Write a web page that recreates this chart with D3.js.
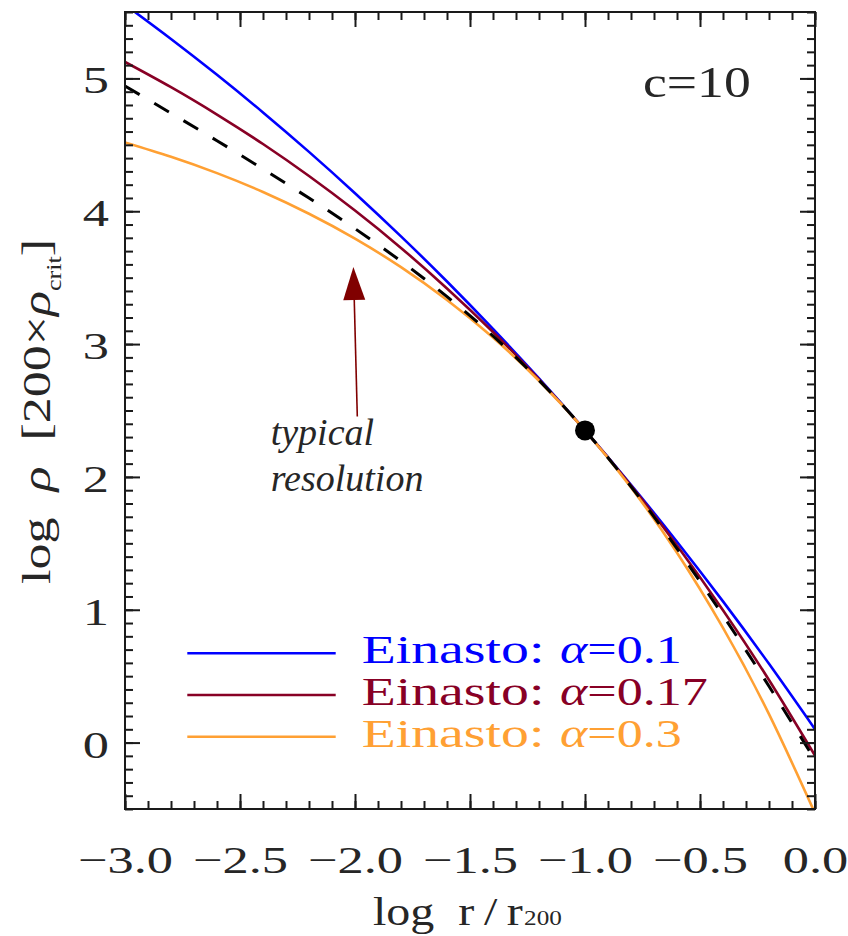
<!DOCTYPE html>
<html>
<head>
<meta charset="utf-8">
<script src="https://cdn.jsdelivr.net/npm/d3@7"></script>
<style>
  html, body { margin: 0; padding: 0; background: #fff; }
  svg { display: block; }
  text { font-family: "Liberation Serif", "Times New Roman", serif; fill: #262626; }
</style>
</head>
<body>
<svg id="chart" width="848" height="936"></svg>
<script>
// log10(r / r200) sample positions
const logR = [-3.0, -2.8, -2.6, -2.4, -2.2, -2.0, -1.8, -1.6, -1.4, -1.2, -1.0, -0.8, -0.6, -0.4, -0.2, 0.0];
// log density [200 x rho_crit] for each profile
const einasto010 = [5.555, 5.297, 5.027, 4.744, 4.447, 4.136, 3.811, 3.471, 3.114, 2.741, 2.350, 1.941, 1.512, 1.063, 0.593, 0.101];
const einasto017 = [5.124, 4.934, 4.728, 4.506, 4.265, 4.005, 3.724, 3.419, 3.091, 2.735, 2.350, 1.934, 1.484, 0.997, 0.471, -0.098];
const einasto030 = [4.518, 4.410, 4.287, 4.145, 3.981, 3.794, 3.579, 3.332, 3.049, 2.724, 2.350, 1.921, 1.429, 0.863, 0.214, -0.532];
const nfw        = [4.943, 4.738, 4.531, 4.318, 4.099, 3.869, 3.624, 3.357, 3.061, 2.727, 2.350, 1.927, 1.461, 0.957, 0.424, -0.131];

const alphaLabels = ["0.1", "0.17", "0.3"];
const seriesColors = ["#0000ff", "#880025", "#ffa033"];
const xTicks = [-3.0, -2.5, -2.0, -1.5, -1.0, -0.5, 0.0];
const yTicks = [0, 1, 2, 3, 4, 5];
const pivotPoint = { x: -1.0, y: 2.35 };        // r = r_-2 for c = 10
const resolutionArrow = { x0: -1.99, y0: 2.455, x1: -2.007, y1: 3.58 };

const svg = d3.select("#chart");
const pLeft = 125, pRight = 815, pTop = 12, pBottom = 809;

const x = d3.scaleLinear().domain([-3, 0]).range([pLeft, pRight]);
const y = d3.scaleLinear().domain([-0.5, 5.5]).range([pBottom, pTop]);

// clip for the curves
svg.append("defs").append("clipPath").attr("id", "plotClip")
  .append("rect").attr("x", pLeft).attr("y", pTop)
  .attr("width", pRight - pLeft).attr("height", pBottom - pTop);

const plot = svg.append("g").attr("clip-path", "url(#plotClip)");

const line = d3.line()
  .x((d, i) => x(logR[i]))
  .y(d => y(d))
  .curve(d3.curveNatural);

[einasto010, einasto017, einasto030].forEach((vals, k) => {
  plot.append("path")
    .attr("d", line(vals))
    .attr("fill", "none")
    .attr("stroke", seriesColors[k])
    .attr("stroke-width", 2.6);
});

plot.append("path")
  .attr("d", line(nfw))
  .attr("fill", "none")
  .attr("stroke", "#000")
  .attr("stroke-width", 3)
  .attr("stroke-dasharray", "17,17");

plot.append("circle")
  .attr("cx", x(pivotPoint.x)).attr("cy", y(pivotPoint.y))
  .attr("r", 10).attr("fill", "#000");

// axes: ticks point inward on all four sides
const axisColor = "#1a1a1a";
function styleAxis(g) {
  g.attr("font-size", null).attr("font-family", null);
  g.select(".domain").remove();
  g.selectAll("line").attr("stroke", axisColor).attr("stroke-width", 2);
}
const xMinor = d3.range(-30, 1).map(i => i / 10);
const yMinor = d3.range(-5, 56).map(i => i / 10);

svg.append("g").attr("transform", `translate(0,${pBottom})`)
  .call(d3.axisBottom(x).tickValues(xMinor).tickSize(-8).tickFormat("")).call(styleAxis);
svg.append("g").attr("transform", `translate(0,${pTop})`)
  .call(d3.axisTop(x).tickValues(xMinor).tickSize(-8).tickFormat("")).call(styleAxis);
svg.append("g").attr("transform", `translate(${pLeft},0)`)
  .call(d3.axisLeft(y).tickValues(yMinor).tickSize(-8).tickFormat("")).call(styleAxis);
svg.append("g").attr("transform", `translate(${pRight},0)`)
  .call(d3.axisRight(y).tickValues(yMinor).tickSize(-8).tickFormat("")).call(styleAxis);

const numStretch = 1.38;
const xAxis = svg.append("g").attr("transform", `translate(0,${pBottom})`)
  .call(d3.axisBottom(x).tickValues(xTicks).tickSize(-15).tickFormat(d3.format(".1f")))
  .call(styleAxis);
xAxis.selectAll("text")
  .attr("y", 63.7).attr("dy", null)
  .attr("transform", `scale(${numStretch},1)`)
  .style("font-size", "38px");

svg.append("g").attr("transform", `translate(0,${pTop})`)
  .call(d3.axisTop(x).tickValues(xTicks).tickSize(-15).tickFormat("")).call(styleAxis);

const yAxis = svg.append("g").attr("transform", `translate(${pLeft},0)`)
  .call(d3.axisLeft(y).tickValues(yTicks).tickSize(-15).tickFormat(d3.format("d")))
  .call(styleAxis);
yAxis.selectAll("text")
  .attr("x", -16 / numStretch).attr("y", 14.5).attr("dy", null)
  .attr("transform", `scale(${numStretch},1)`)
  .style("font-size", "38px");

svg.append("g").attr("transform", `translate(${pRight},0)`)
  .call(d3.axisRight(y).tickValues(yTicks).tickSize(-15).tickFormat("")).call(styleAxis);

// frame
svg.append("rect")
  .attr("x", pLeft).attr("y", pTop)
  .attr("width", pRight - pLeft).attr("height", pBottom - pTop)
  .attr("fill", "none").attr("stroke", axisColor).attr("stroke-width", 2);

// x axis title
const xt = svg.append("text")
  .attr("transform", "translate(373,925) scale(1.2,1)")
  .style("font-size", "40px");
xt.append("tspan").text("log\u2002r\u2009/\u2009r");
xt.append("tspan").attr("dx", 1).style("font-size", "21px").text("200");

// y axis title
const yt = svg.append("text")
  .attr("transform", "translate(50,411.5) rotate(-90) scale(1.3,1)")
  .attr("text-anchor", "middle")
  .style("font-size", "40px");
yt.append("tspan").text("log\u2002");
yt.append("tspan").style("font-style", "italic").text("\u03c1");
yt.append("tspan").text("\u2002[200\u00d7");
yt.append("tspan").style("font-style", "italic").text("\u03c1");
yt.append("tspan").style("font-size", "20px").attr("dy", 11).text("crit");
yt.append("tspan").attr("dy", -11).text("]");

// concentration label
svg.append("text")
  .attr("transform", "translate(643,96.7) scale(1.22,1)")
  .style("font-size", "44px")
  .text("c=10");

// resolution arrow
const ax0 = x(resolutionArrow.x0), ay0 = y(resolutionArrow.y0);
const ax1 = x(resolutionArrow.x1), ay1 = y(resolutionArrow.y1);
const len = Math.hypot(ax1 - ax0, ay1 - ay0);
const ux = (ax1 - ax0) / len, uy = (ay1 - ay0) / len;
const headLen = 33, headHalf = 11;
const bx = ax1 - ux * headLen, by = ay1 - uy * headLen;
svg.append("line")
  .attr("x1", ax0).attr("y1", ay0).attr("x2", bx).attr("y2", by)
  .attr("stroke", "#800000").attr("stroke-width", 1.6);
svg.append("polygon")
  .attr("points", [
    [ax1, ay1],
    [bx - uy * headHalf, by + ux * headHalf],
    [bx + uy * headHalf, by - ux * headHalf]
  ].map(p => p.join(",")).join(" "))
  .attr("fill", "#800000");

const note = svg.append("text")
  .style("font-size", "38px").style("font-style", "italic");
note.append("tspan").attr("x", ax0 - 86.6).attr("y", ay0 + 29).text("typical");
note.append("tspan").attr("x", ax0 - 86.6).attr("y", ay0 + 75).text("resolution");

// legend
const legendY = [653.3, 695, 736.7];
alphaLabels.forEach((a, k) => {
  svg.append("line")
    .attr("x1", 187.3).attr("x2", 335.7)
    .attr("y1", legendY[k]).attr("y2", legendY[k])
    .attr("stroke", seriesColors[k]).attr("stroke-width", 2.6);
  svg.append("text")
    .attr("transform", `translate(361.7,${legendY[k] + 10}) scale(1.36,1)`)
    .style("font-size", "41px").style("fill", seriesColors[k])
    .text("Einasto:");
  const t = svg.append("text")
    .attr("transform", `translate(560,${legendY[k] + 10}) scale(1.27,1)`)
    .style("font-size", "41px").style("fill", seriesColors[k]);
  t.append("tspan").style("font-style", "italic").text("\u03b1");
  t.append("tspan").text("=" + a);
});
</script>
</body>
</html>
